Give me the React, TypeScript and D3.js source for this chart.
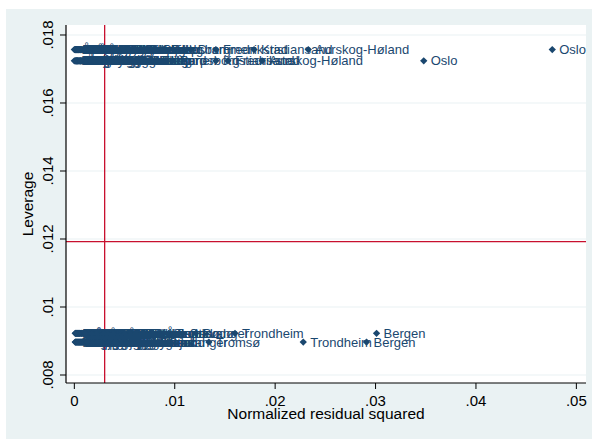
import React from "react";
import * as d3 from "d3";

const W = 595;
const H = 439;

// Axis ticks and their printed labels
const xTicks = [0, 0.01, 0.02, 0.03, 0.04, 0.05];
const xTickLabels = ["0", ".01", ".02", ".03", ".04", ".05"];
const yTicks = [0.008, 0.01, 0.012, 0.014, 0.016, 0.018];
const yTickLabels = [".008", ".01", ".012", ".014", ".016", ".018"];

// Reference lines: mean normalized residual squared and mean leverage
const meanResidSq = 0.00302;
const meanLeverage = 0.01192;

// Leverage of each municipality group / period
const leverageA1 = 0.01757;
const leverageA2 = 0.01724;
const leverageB1 = 0.009226;
const leverageB2 = 0.00897;

// Group A municipalities
const groupANames = [
  "Asker", "Bærum", "Lillestrøm", "Lørenskog", "Nittedal", "Rælingen", "Enebakk",
  "Nordre Follo", "Ås", "Frogn", "Vestby", "Nesodden", "Ullensaker", "Eidsvoll",
  "Nes", "Gjerdrum", "Nannestad", "Hurdal", "Lunner", "Jevnaker", "Ringerike",
  "Hole", "Lier", "Øvre Eiker", "Modum", "Kongsberg", "Holmestrand", "Horten",
  "Tønsberg", "Færder", "Sandefjord", "Larvik", "Porsgrunn", "Skien", "Halden",
  "Moss", "Indre Østfold", "Rakkestad", "Råde", "Hvaler",
  "Bamble", "Kragerø", "Notodden", "Arendal", "Grimstad", "Lillesand", "Lindesnes",
  "Farsund", "Flekkefjord", "Vennesla", "Marker", "Skiptvet", "Aremark", "Våler",
  "Sigdal", "Krødsherad", "Flå", "Nesbyen", "Gol", "Hemsedal",
  "Sarpsborg", "Drammen", "Fredrikstad", "Kristiansand", "Aurskog-Høland", "Oslo",
];
const groupAResid1 = [
  0.0012, 0.0007, 0.0031, 0.0004, 0.0002, 0.0009, 0.0015,
  0.0046, 0.0001, 0.0005, 0.0018, 0.0003, 0.0058, 0.0022,
  0.0011, 0.0, 0.0013, 0.0006, 0.0002, 0.0008, 0.0036,
  0.0004, 0.0027, 0.0017, 0.001, 0.0041, 0.002, 0.0025,
  0.0066, 0.0014, 0.0052, 0.0072, 0.0039, 0.0081, 0.0033,
  0.0061, 0.0029, 0.0003, 0.0006, 0.0001,
  0.0005, 0.0019, 0.001, 0.0034, 0.0024, 0.0002, 0.0015,
  0.0007, 0.0043, 0.0028, 0.0001, 0.0012, 0.0004, 0.0009,
  0.0021, 0.0006, 0.0016, 0.0003, 0.0048, 0.0011,
  0.0089, 0.0116, 0.0141, 0.0179, 0.0233, 0.0476,
];
const groupAResid2 = [
  0.0009, 0.0014, 0.0024, 0.0006, 0.0001, 0.0011, 0.0003,
  0.0037, 0.0005, 0.0002, 0.0021, 0.0008, 0.0049, 0.0016,
  0.0004, 0.0012, 0.0007, 0.0, 0.001, 0.0003, 0.0028,
  0.0006, 0.0033, 0.0013, 0.0019, 0.0044, 0.0015, 0.0031,
  0.0055, 0.0008, 0.0062, 0.0047, 0.0026, 0.0069, 0.004,
  0.0053, 0.0018, 0.0002, 0.0011, 0.0004,
  0.001, 0.0003, 0.0023, 0.0017, 0.0038, 0.0005, 0.0009,
  0.0029, 0.0014, 0.0051, 0.0002, 0.0007, 0.002, 0.0012,
  0.0035, 0.0001, 0.0025, 0.0006, 0.0042, 0.0016,
  0.0098, 0.0078, 0.0153, 0.0141, 0.0187, 0.0348,
];

// Group B municipalities
const groupBNames = [
  "Stavanger", "Sandnes", "Sola", "Randaberg", "Klepp", "Time", "Hå", "Haugesund",
  "Karmøy", "Stord", "Bømlo", "Askøy", "Øygarden", "Bjørnafjorden", "Voss",
  "Sogndal", "Sunnfjord", "Kinn", "Ålesund", "Molde", "Kristiansund", "Ørsta",
  "Volda", "Steinkjer", "Levanger", "Verdal", "Stjørdal", "Malvik", "Melhus",
  "Orkland", "Namsos", "Narvik", "Harstad", "Rana", "Vefsn", "Alta", "Hammerfest",
  "Vadsø", "Sør-Varanger", "Hamar", "Ringsaker",
  "Elverum", "Kongsvinger", "Gjøvik", "Lillehammer", "Østre Toten", "Vestre Toten",
  "Nord-Aurdal", "Sel", "Vågå", "Lom", "Fauske", "Sortland", "Vestvågøy", "Senja",
  "Balsfjord", "Kautokeino", "Karasjok", "Frøya", "Hitra", "Oppdal",
  "Bodø", "Tromsø", "Trondheim", "Bergen",
];
const groupBResid1 = [
  0.0108, 0.0072, 0.0015, 0.0003, 0.0008, 0.0011, 0.0005, 0.0058,
  0.0034, 0.0019, 0.0002, 0.0041, 0.0027, 0.0023, 0.0013,
  0.0001, 0.0017, 0.0006, 0.0084, 0.0038, 0.0045, 0.0004,
  0.0009, 0.0031, 0.0021, 0.0012, 0.0049, 0.0007, 0.0016,
  0.0025, 0.001, 0.0036, 0.0053, 0.0064, 0.0014, 0.0043, 0.002,
  0.0003, 0.0029, 0.0068, 0.0056,
  0.0026, 0.0007, 0.0047, 0.0018, 0.0033, 0.0002, 0.0012,
  0.0039, 0.0005, 0.0022, 0.0061, 0.0009, 0.0015, 0.0029,
  0.0004, 0.0011, 0.0076, 0.005, 0.0001, 0.0017,
  0.0121, 0.0094, 0.016, 0.0301,
];
const groupBResid2 = [
  0.0087, 0.0061, 0.0011, 0.0006, 0.0002, 0.0014, 0.0008, 0.0047,
  0.0039, 0.0013, 0.0004, 0.0033, 0.0022, 0.0018, 0.0009,
  0.0003, 0.0024, 0.0001, 0.0069, 0.003, 0.0052, 0.0007,
  0.0005, 0.0026, 0.0016, 0.001, 0.0043, 0.0012, 0.002,
  0.0019, 0.0007, 0.0028, 0.0044, 0.0055, 0.0009, 0.0036, 0.0015,
  0.0002, 0.0025, 0.0058, 0.0048,
  0.0021, 0.0012, 0.0038, 0.0005, 0.0027, 0.001, 0.0003,
  0.0046, 0.0015, 0.0008, 0.0053, 0.0019, 0.0001, 0.0034,
  0.0006, 0.0023, 0.0064, 0.0041, 0.0004, 0.0013,
  0.0079, 0.0134, 0.0228, 0.0291,
];

type Pt = { name: string; r: number; lev: number };

const points: Pt[] = [
  ...groupANames.map((name, i) => ({ name, r: groupAResid1[i], lev: leverageA1 })),
  ...groupANames.map((name, i) => ({ name, r: groupAResid2[i], lev: leverageA2 })),
  ...groupBNames.map((name, i) => ({ name, r: groupBResid1[i], lev: leverageB1 })),
  ...groupBNames.map((name, i) => ({ name, r: groupBResid2[i], lev: leverageB2 })),
];

const plotL = 66;
const plotR = 586;
const plotT = 25;
const plotB = 383;

const x = d3.scaleLinear().domain([-0.00083, 0.05096]).range([plotL, plotR]);
const y = d3.scaleLinear().domain([0.007765, 0.018294]).range([plotB, plotT]);

const navy = "#1a476f";
const bg = "#eaf2f3";
const red = "#c8102e";
const font = "'Liberation Sans', Arial, Helvetica, sans-serif";

const diamond = d3.symbol().type(d3.symbolDiamond2).size(34)() as string;

export default function App() {
  return (
    <svg
      width={W}
      height={H}
      style={{ position: "absolute", left: 0, top: 0, display: "block" }}
      fontFamily={font}
    >
      <rect x={0} y={0} width={W} height={H} fill="#ffffff" />
      <rect x={6} y={9} width={586} height={H - 9} fill={bg} />
      <rect x={plotL} y={plotT} width={plotR - plotL} height={plotB - plotT} fill="#ffffff" />

      {/* horizontal grid */}
      {yTicks.map((t) => (
        <line key={"g" + t} x1={plotL} x2={plotR} y1={y(t)} y2={y(t)} stroke={bg} strokeWidth={1.2} />
      ))}

      {/* reference lines */}
      <line x1={x(meanResidSq)} x2={x(meanResidSq)} y1={plotT} y2={plotB} stroke={red} strokeWidth={1.3} />
      <line x1={plotL} x2={plotR} y1={y(meanLeverage)} y2={y(meanLeverage)} stroke={red} strokeWidth={1.3} />

      {/* markers */}
      {points.map((p, i) => (
        <path key={"m" + i} d={diamond} transform={`translate(${x(p.r)},${y(p.lev)})`} fill={navy} />
      ))}
      {/* marker labels */}
      {points.map((p, i) => (
        <text
          key={"t" + i}
          x={x(p.r) + 7}
          y={y(p.lev)}
          dy="0.35em"
          fontSize={13}
          fill={navy}
        >
          {p.name}
        </text>
      ))}

      {/* y axis */}
      <line x1={plotL} x2={plotL} y1={plotT} y2={plotB} stroke="#000" strokeWidth={1.2} />
      {yTicks.map((t, i) => (
        <g key={"yt" + t}>
          <line x1={plotL - 6} x2={plotL} y1={y(t)} y2={y(t)} stroke="#000" strokeWidth={1} />
          <text
            transform={`translate(${plotL - 13},${y(t)}) rotate(-90)`}
            textAnchor="middle"
            fontSize={15}
            fill="#000"
          >
            {yTickLabels[i]}
          </text>
        </g>
      ))}
      <text
        transform={`translate(33,${(plotT + plotB) / 2}) rotate(-90)`}
        textAnchor="middle"
        fontSize={15.5}
        fill="#000"
      >
        Leverage
      </text>

      {/* x axis */}
      <line x1={plotL} x2={plotR} y1={plotB} y2={plotB} stroke="#000" strokeWidth={1.2} />
      {xTicks.map((t, i) => (
        <g key={"xt" + t}>
          <line x1={x(t)} x2={x(t)} y1={plotB} y2={plotB + 6} stroke="#000" strokeWidth={1} />
          <text x={x(t)} y={plotB + 23} textAnchor="middle" fontSize={15} fill="#000">
            {xTickLabels[i]}
          </text>
        </g>
      ))}
      <text x={(plotL + plotR) / 2} y={419} textAnchor="middle" fontSize={15.5} fill="#000">
        Normalized residual squared
      </text>
    </svg>
  );
}
